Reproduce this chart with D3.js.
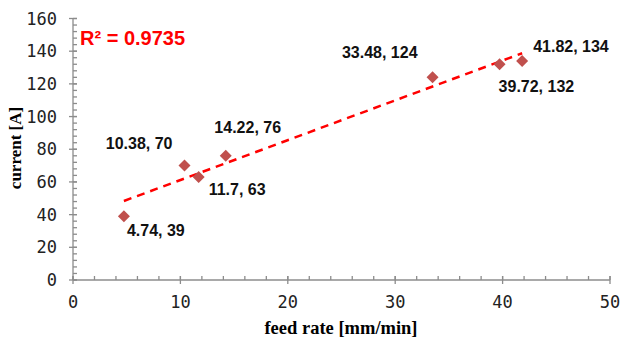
<!DOCTYPE html>
<html>
<head>
<meta charset="utf-8">
<script src="https://cdn.jsdelivr.net/npm/d3@7"></script>
<style>
  body { margin: 0; background: #fff; }
  .tick-label { font-family: "DejaVu Sans Mono", monospace; font-size: 17px; fill: #222; }
  .axis-title { font-family: "Liberation Serif", "Times New Roman", serif; font-weight: bold; fill: #000; }
  .pt-label { font-family: "Liberation Sans", Arial, sans-serif; font-weight: bold; font-size: 16px; fill: #111; }
</style>
</head>
<body>
<svg id="chart" width="621" height="343"></svg>
<script>
/*
SCATTER: CURRENT VS FEED RATE WITH LINEAR TREND
*/

// data
const feedRate = [4.74, 10.38, 11.7, 14.22, 33.48, 39.72, 41.82];
const current = [39, 70, 63, 76, 124, 132, 134];
const xTicks = [0, 10, 20, 30, 40, 50];
const yTicks = [0, 20, 40, 60, 80, 100, 120, 140, 160];
const rSquaredText = "R² = 0.9735";

const chart = d3.select("#chart");

const x = d3.scaleLinear().domain([0, 50]).range([73, 610]);
const y = d3.scaleLinear().domain([0, 160]).range([280, 18.5]);
const axisColor = "#8c8c8c";

// label placement relative to each point (same order as the data)
const labelOffsets = [
  { dx: 3, dy: 20, anchor: "start" },
  { dx: -12, dy: -17, anchor: "end" },
  { dx: 10, dy: 18, anchor: "start" },
  { dx: 22, dy: -23, anchor: "middle" },
  { dx: -15, dy: -19, anchor: "end" },
  { dx: -1, dy: 28, anchor: "start" },
  { dx: 11, dy: -9, anchor: "start" },
];

const points = feedRate.map((f, i) => ({ x: f, y: current[i] }));

// ---- axes ----
function drawAxes() {
  const g = chart.append("g").attr("stroke", axisColor).attr("stroke-width", 1.3);

  // minor ticks (inside the plot)
  d3.range(0, 50.01, 2).forEach((v) => {
    g.append("line")
      .attr("x1", x(v)).attr("x2", x(v))
      .attr("y1", y(0)).attr("y2", y(0) - 4);
  });
  d3.range(0, 160.01, 4).forEach((v) => {
    g.append("line")
      .attr("x1", x(0)).attr("x2", x(0) + 4)
      .attr("y1", y(v)).attr("y2", y(v));
  });

  // major ticks cross the axis line
  xTicks.forEach((v) => {
    g.append("line")
      .attr("x1", x(v)).attr("x2", x(v))
      .attr("y1", y(0) - 4).attr("y2", y(0) + 4);
  });
  yTicks.forEach((v) => {
    g.append("line")
      .attr("x1", x(0) - 4).attr("x2", x(0) + 4)
      .attr("y1", y(v)).attr("y2", y(v));
  });

  // axis lines
  g.append("line").attr("x1", x(0)).attr("x2", x(50)).attr("y1", y(0)).attr("y2", y(0));
  g.append("line").attr("x1", x(0)).attr("x2", x(0)).attr("y1", y(0)).attr("y2", y(160));

  chart.append("g")
    .selectAll("text")
    .data(xTicks)
    .enter()
    .append("text")
    .attr("class", "tick-label")
    .attr("x", (d) => x(d))
    .attr("y", 308)
    .attr("text-anchor", "middle")
    .text((d) => d);

  chart.append("g")
    .selectAll("text")
    .data(yTicks)
    .enter()
    .append("text")
    .attr("class", "tick-label")
    .attr("x", 57)
    .attr("y", (d) => y(d) + 6)
    .attr("text-anchor", "end")
    .text((d) => d);

  chart.append("text")
    .attr("class", "axis-title")
    .attr("x", 341)
    .attr("y", 334)
    .attr("font-size", 18.5)
    .attr("text-anchor", "middle")
    .text("feed rate [mm/min]");

  chart.append("text")
    .attr("class", "axis-title")
    .attr("font-size", 17)
    .attr("transform", "translate(21,148) rotate(-90)")
    .attr("text-anchor", "middle")
    .text("current [A]");
}

// ---- linear trend (least squares) ----
function drawTrend() {
  const mx = d3.mean(feedRate);
  const my = d3.mean(current);
  const sxy = d3.sum(points, (p) => (p.x - mx) * (p.y - my));
  const sxx = d3.sum(points, (p) => (p.x - mx) ** 2);
  const slope = sxy / sxx;
  const icpt = my - slope * mx;
  const ext = d3.extent(feedRate);

  chart.append("path")
    .datum(ext.map((v) => [v, icpt + slope * v]))
    .attr("fill", "none")
    .attr("stroke", "#ff0000")
    .attr("stroke-width", 2.5)
    .attr("stroke-dasharray", "8,6")
    .attr("d", d3.line().x((d) => x(d[0])).y((d) => y(d[1])));

  chart.append("text")
    .attr("x", 80)
    .attr("y", 45)
    .attr("fill", "#ff0000")
    .attr("font-family", "Liberation Sans, Arial, sans-serif")
    .attr("font-weight", "bold")
    .attr("font-size", 20)
    .text(rSquaredText);
}

// ---- points and labels ----
function drawPoints() {
  const diamond = d3.symbol().type(d3.symbolSquare).size(72);
  chart.append("g")
    .selectAll("path")
    .data(points)
    .enter()
    .append("path")
    .attr("d", diamond)
    .attr("fill", "#c0504d")
    .attr("transform", (d) => "translate(" + x(d.x) + "," + y(d.y) + ") rotate(45)");

  chart.append("g")
    .selectAll("text")
    .data(points)
    .enter()
    .append("text")
    .attr("class", "pt-label")
    .attr("x", (d, i) => x(d.x) + labelOffsets[i].dx)
    .attr("y", (d, i) => y(d.y) + labelOffsets[i].dy)
    .attr("text-anchor", (d, i) => labelOffsets[i].anchor)
    .text((d) => d.x + ", " + d.y);
}

drawAxes();
drawTrend();
drawPoints();
</script>
</body>
</html>
